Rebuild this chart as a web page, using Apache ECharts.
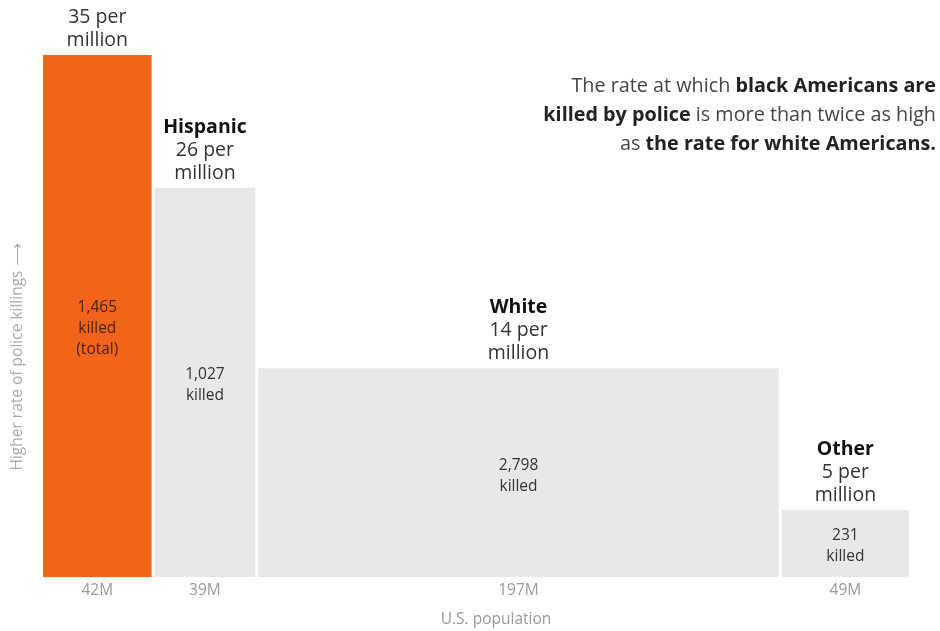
<!DOCTYPE html>
<html>
<head>
<meta charset="utf-8">
<script src="https://cdn.jsdelivr.net/npm/echarts@6/dist/echarts.min.js"></script>
<style>html,body{margin:0;padding:0;background:#fff;}#c{width:940px;height:631px;}</style>
</head>
<body>
<div id="c"></div>
<script>
var categories = ['Black', 'Hispanic', 'White', 'Other'];
var showNames = ['', 'Hispanic', 'White', 'Other'];
var population = [42, 39, 197, 49];
var popLabels = ['42M', '39M', '197M', '49M'];
var rateHeight = [35, 26.1, 14, 4.5];
var rateLabels = ['35 per', '26 per', '14 per', '5 per'];
var killed = ['1,465', '1,027', '2,798', '231'];
var killedNote = ['killed\n(total)', 'killed', 'killed', 'killed'];
var colors = ['#f26419', '#e8e8e8', '#e8e8e8', '#e8e8e8'];

var FONT = '"Open Sans", Roboto, sans-serif';
var totalPop = population.reduce(function (a, b) { return a + b; }, 0);
var data = [];
var acc = 0;
for (var i = 0; i < categories.length; i++) {
  data.push([acc, acc + population[i], rateHeight[i], i]);
  acc += population[i];
}

var chart = echarts.init(document.getElementById('c'));
chart.setOption({
  animation: false,
  grid: { left: 43, right: 28, top: 55, bottom: 54 },
  xAxis: { type: 'value', min: 0, max: totalPop, show: false },
  yAxis: { type: 'value', min: 0, max: 35, show: false },
  series: [{
    type: 'custom',
    data: data,
    renderItem: function (params, api) {
      var i = api.value(3);
      var p0 = api.coord([api.value(0), api.value(2)]);
      var p1 = api.coord([api.value(1), 0]);
      var x = p0[0], y = p0[1], w = p1[0] - p0[0] - 3, h = p1[1] - p0[1];
      var cx = x + w / 2;
      var topText = (showNames[i] ? '{b|' + showNames[i] + '}\n' : '') + '{n|' + rateLabels[i] + '}\n{n|million}';
      return {
        type: 'group',
        children: [
          { type: 'rect', shape: { x: x, y: y, width: w, height: h }, style: { fill: colors[i] } },
          { type: 'text', x: cx, y: y + h / 2 + (i === 0 ? 13 : 3),
            style: { text: killed[i] + '\n' + killedNote[i], align: 'center', verticalAlign: 'middle',
              font: '15.5px ' + FONT, lineHeight: 21, fill: i === 0 ? '#4a2410' : '#333' } },
          { type: 'text', x: cx, y: y - 3,
            style: { text: topText, align: 'center', verticalAlign: 'bottom',
              rich: {
                b: { fontFamily: FONT, fontSize: 19.5, fontWeight: 'bold', fill: '#111', lineHeight: 23 },
                n: { fontFamily: FONT, fontSize: 19.5, fill: '#333', lineHeight: 23 }
              } } },
          { type: 'text', x: cx, y: p1[1] + 14,
            style: { text: popLabels[i], align: 'center', verticalAlign: 'middle',
              font: '15.5px ' + FONT, fill: '#999' } }
        ]
      };
    }
  }],
  graphic: [
    { type: 'text', x: 496, y: 620,
      style: { text: 'U.S. population', align: 'center', verticalAlign: 'middle', font: '15.5px ' + FONT, fill: '#999' } },
    { type: 'text', x: 18, y: 357, rotation: Math.PI / 2,
      style: { text: 'Higher rate of police killings \u27F6', align: 'center', verticalAlign: 'middle',
        font: '15.5px ' + FONT, fill: '#aaa' } },
    { type: 'text', x: 936, y: 72,
      style: {
        text: '{n|The rate at which }{b|black Americans are}\n{b|killed by police}{n| is more than twice as high}\n{n|as }{b|the rate for white Americans.}',
        align: 'right', verticalAlign: 'top',
        rich: {
          n: { fontFamily: FONT, fontSize: 19.8, fill: '#444', lineHeight: 29 },
          b: { fontFamily: FONT, fontSize: 19.8, fontWeight: 'bold', fill: '#222', lineHeight: 29 }
        }
      } }
  ]
});
</script>
</body>
</html>
